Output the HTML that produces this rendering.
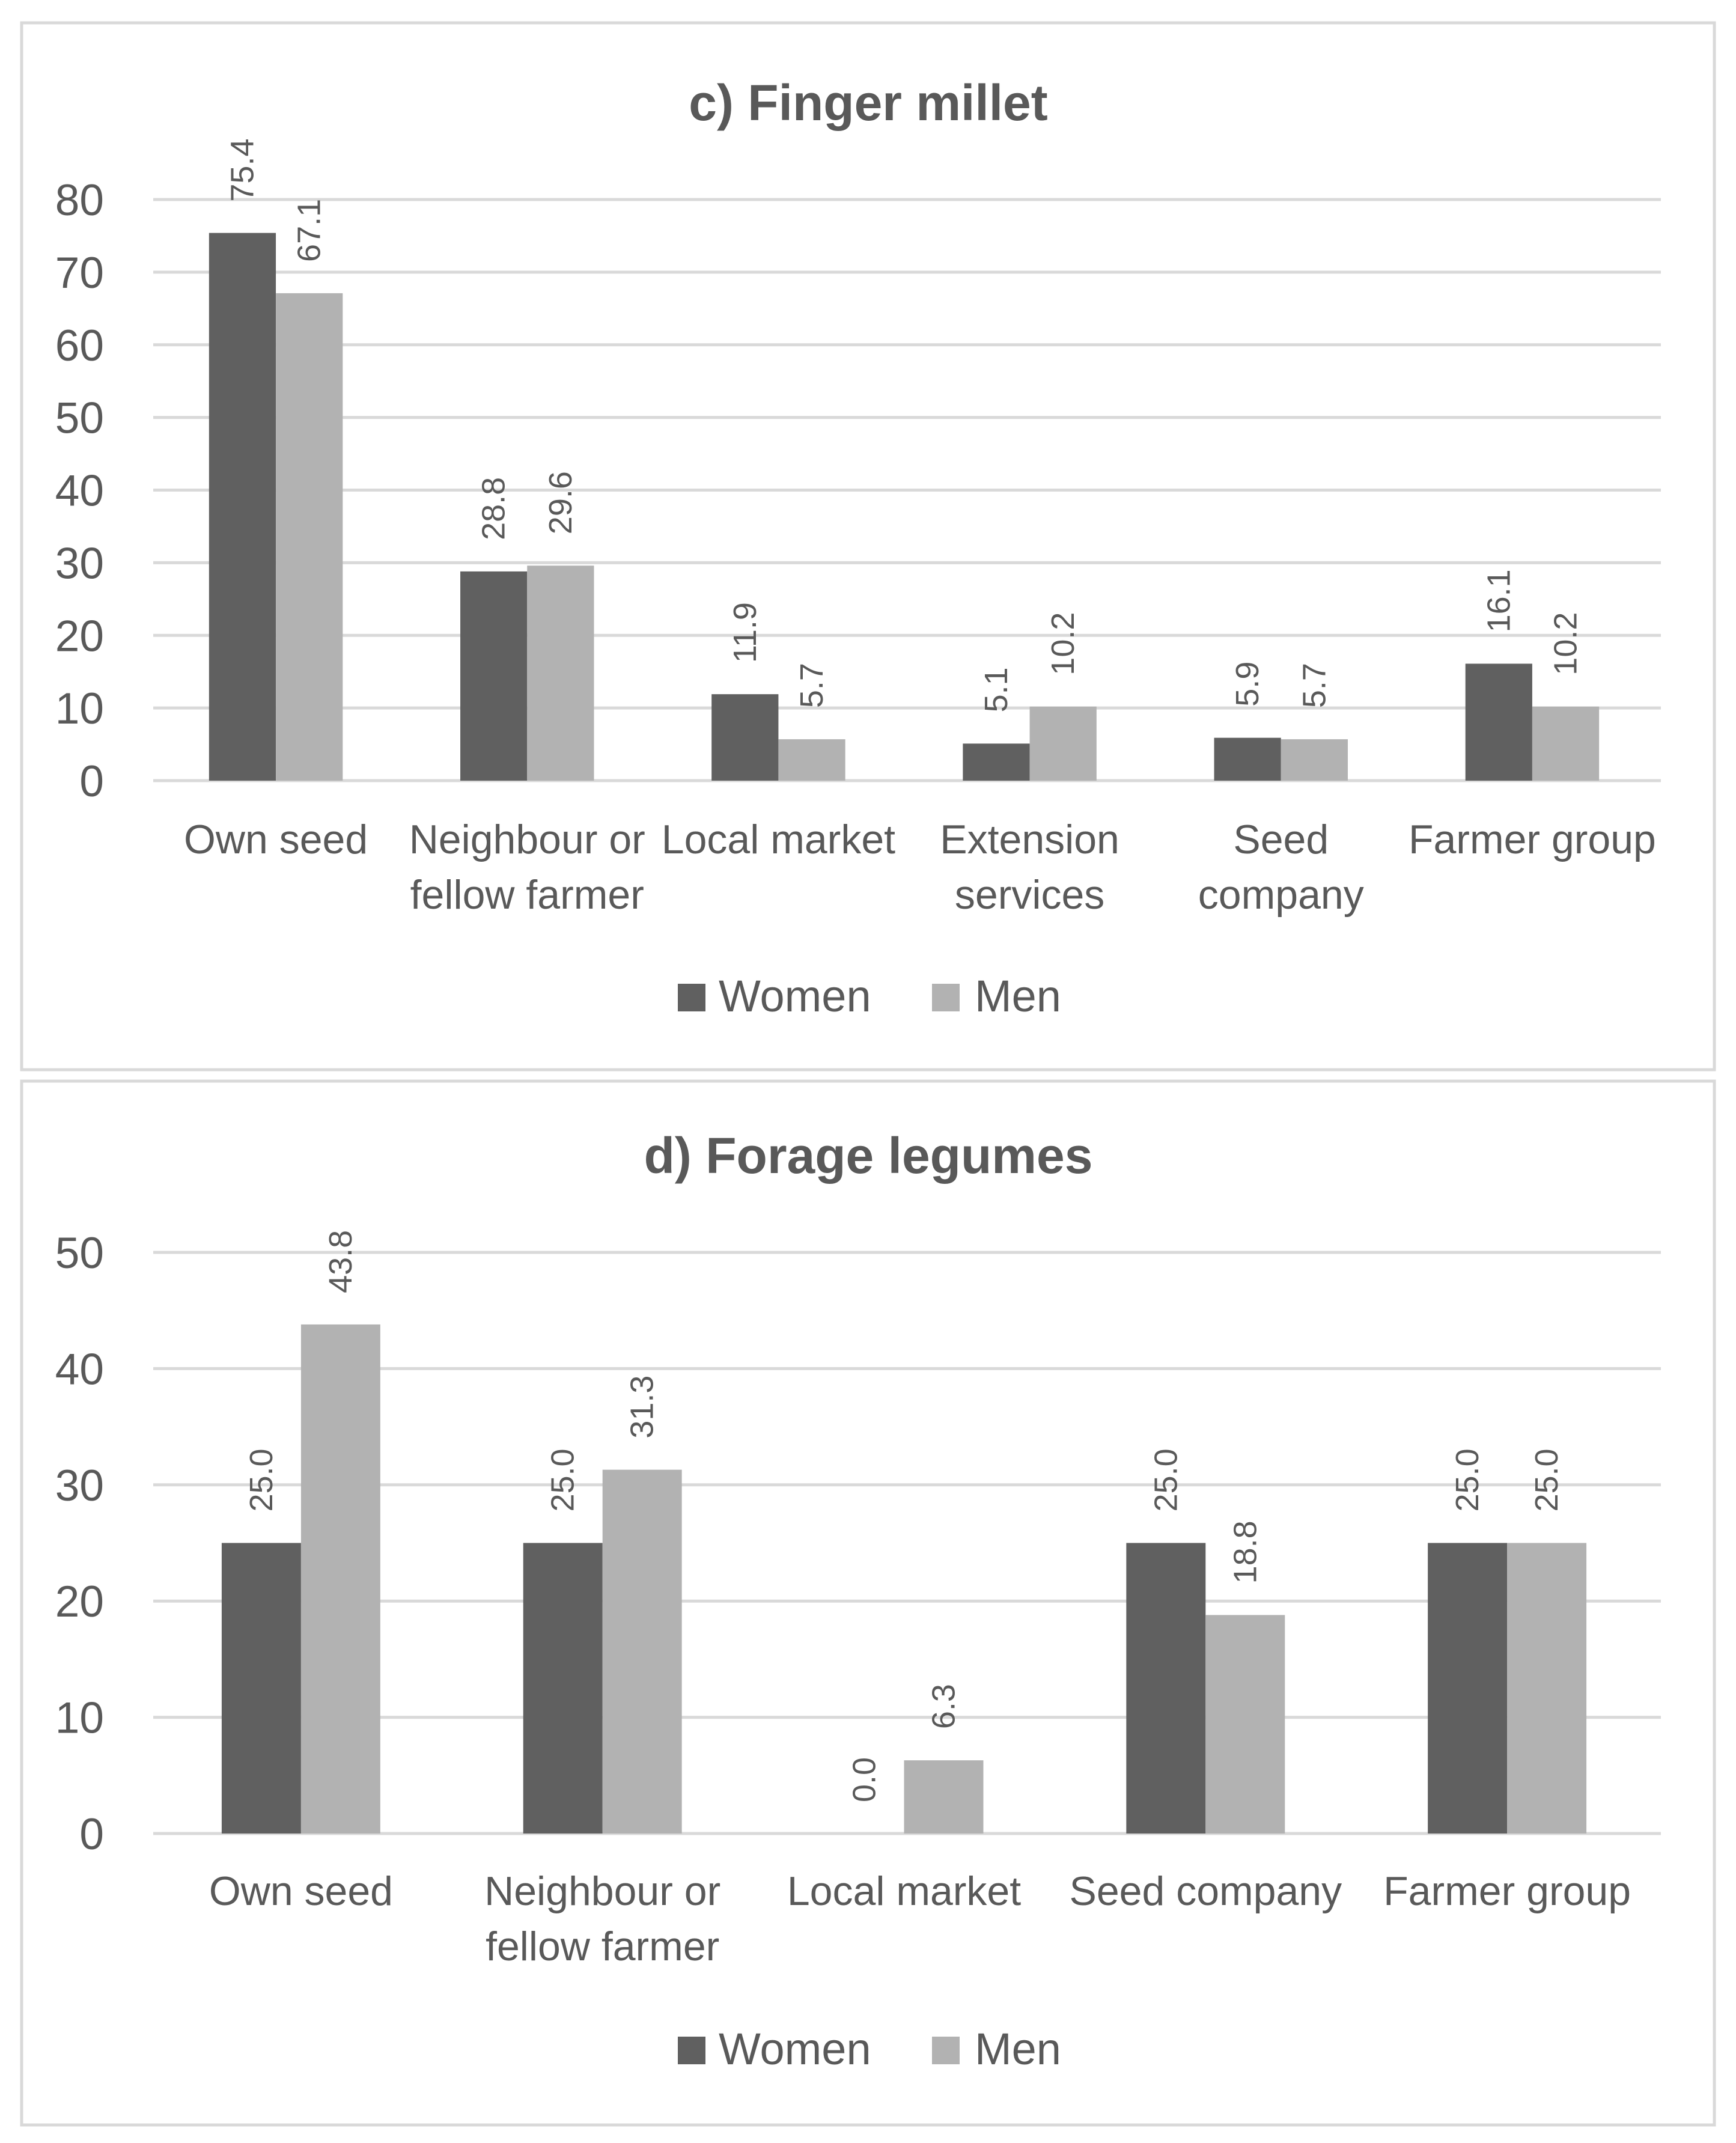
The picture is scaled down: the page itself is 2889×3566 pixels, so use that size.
<!DOCTYPE html>
<html><head><meta charset="utf-8"><style>
html,body{margin:0;padding:0;background:#fff;}
svg{display:block;}
text{font-family:"Liberation Sans",sans-serif;fill:#595959;}
</style></head><body>
<svg id="chart" width="2889" height="3566" viewBox="0 0 2889 3566" xmlns="http://www.w3.org/2000/svg">
<rect x="0" y="0" width="2889" height="3566" fill="#fff"/>
</svg>
<script>
const catsC = ["Own seed", "Neighbour or|fellow farmer", "Local market", "Extension|services", "Seed|company", "Farmer group"];
const womenC = [75.4, 28.8, 11.9, 5.1, 5.9, 16.1];
const menC = [67.1, 29.6, 5.7, 10.2, 5.7, 10.2];
const ticksC = [0, 10, 20, 30, 40, 50, 60, 70, 80];
const catsD = ["Own seed", "Neighbour or|fellow farmer", "Local market", "Seed company", "Farmer group"];
const womenD = [25.0, 25.0, 0.0, 25.0, 25.0];
const menD = [43.8, 31.3, 6.3, 18.8, 25.0];
const ticksD = [0, 10, 20, 30, 40, 50];

const NS = "http://www.w3.org/2000/svg";
const svg = document.getElementById("chart");
function mk(tag, attrs, parent, txt) {
  const e = document.createElementNS(NS, tag);
  for (const k in attrs) e.setAttribute(k, attrs[k]);
  if (txt !== undefined) e.textContent = txt;
  parent.appendChild(e);
  return e;
}

function drawChart(o) {
  const g = mk("g", {}, svg);
  
  
  const box = mk("rect", {x: o.bx, y: o.by, width: o.bw, height: o.bh, fill: "#fff", stroke: "#d9d9d9", "stroke-width": 5}, g);
  
  
  const t = mk("text", {x: 1445, y: o.titleY, "text-anchor": "middle", "font-size": 84, "font-weight": "bold"}, g, o.title);
  
  
  const x0 = 255, x1 = 2764, sh = -5;
  const ymax = o.ticks[o.ticks.length - 1];
  const yS = v => o.y0 - (o.y0 - o.yTop) * v / ymax;
  o.ticks.forEach(v => {
    const l = mk("line", {x1: x0, x2: x1, y1: yS(v), y2: yS(v), stroke: "#d9d9d9", "stroke-width": 5}, g);
    
    
    const tl = mk("text", {x: 173, y: yS(v) + 26, "text-anchor": "end", "font-size": 73}, g, String(v));
    
    
  });
  const n = o.cats.length;
  const cw = (x1 - x0) / n;
  const bw = cw * o.barFrac;
  o.cats.forEach((c, i) => {
    const cx = x0 + cw * (i + 0.5) + sh;
    [[o.women, "#606060", -1, 'bar-women'], [o.men, "#b2b2b2", 0, 'bar-men']].forEach(([arr, col, off, nm]) => {
      const v = arr[i];
      const bx = cx + off * bw;
      const b = mk("rect", {x: bx, y: yS(v), width: bw, height: o.y0 - yS(v), fill: col}, g);
      
      
      const lx = bx + bw / 2 + 18, ly = yS(v) - 52;
      const dl = mk("text", {x: lx, y: ly, "font-size": 54, transform: `rotate(-90 ${lx} ${ly})`}, g, v.toFixed(1));
      
      
    });
    c.split("|").forEach((line, j) => {
      const ct = mk("text", {x: cx, y: o.catY + j * 92, "text-anchor": "middle", "font-size": 68}, g, line);
      
      
    });
  });
  const ly = o.legY;
  const s1 = mk("rect", {x: 1128, y: ly - 46, width: 46, height: 46, fill: "#606060"}, g);
  
  
  const t1 = mk("text", {x: 1196, y: ly, "font-size": 74}, g, "Women");
  
  
  const s2 = mk("rect", {x: 1551, y: ly - 46, width: 46, height: 46, fill: "#b2b2b2"}, g);
  
  
  const t2 = mk("text", {x: 1622, y: ly, "font-size": 74}, g, "Men");
  
  
}

drawChart({name: "chart-finger-millet", title: "c) Finger millet", bx: 36, by: 38, bw: 2817, bh: 1742,
  titleY: 200, y0: 1299, yTop: 332, ticks: ticksC, cats: catsC, women: womenC, men: menC,
  barFrac: 0.266, catY: 1420, legY: 1683});
drawChart({name: "chart-forage-legumes", title: "d) Forage legumes", bx: 36, by: 1799, bw: 2817, bh: 1737,
  titleY: 1952, y0: 3051, yTop: 2084, ticks: ticksD, cats: catsD, women: womenD, men: menD,
  barFrac: 0.263, catY: 3170, legY: 3435});
</script>
</body></html>
